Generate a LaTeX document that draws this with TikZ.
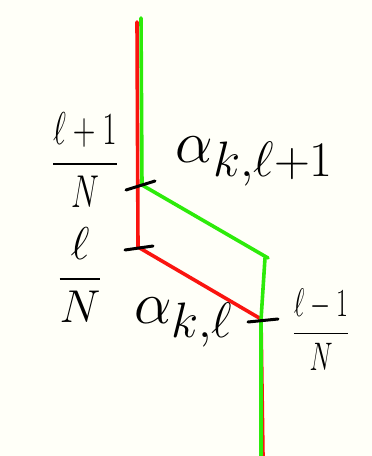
\documentclass[tikz,border=0pt]{standalone}
\usepackage{amsmath}
\usepackage{graphicx}
\definecolor{bg}{RGB}{255,255,248}
\definecolor{pen red}{RGB}{250,20,15}
\definecolor{pen green}{RGB}{45,235,10}
\begin{document}
\begin{tikzpicture}[x=1pt,y=-1pt,
  redpath/.style={draw=pen red,line width=3.6pt,line cap=round,line join=round},
  greenpath/.style={draw=pen green,line width=3.6pt,line cap=round,line join=round},
  tick/.style={draw=black,line width=3pt,line cap=round},
  lbl/.style={inner sep=0pt,text=black,font=\Huge}]
\fill[bg] (0,0) rectangle (372,456);
\useasboundingbox (0,0) rectangle (372,456);
% coordinates
\coordinate (rtop) at (137,22);
\coordinate (rc1) at (138,247);
\coordinate (rc2) at (261,319);
\coordinate (rbot) at (263,456);
\coordinate (gtop) at (141,18);
\coordinate (gc1) at (142,185);
\coordinate (gc2) at (268,258);
\coordinate (gc3) at (265,258);
\coordinate (gc4) at (261,320);
\coordinate (gbot) at (261,456);
% red path
\draw[redpath] (rtop) -- (rc1) -- (rc2) -- (rbot);
% green path
\draw[greenpath] (gtop) -- (gc1) -- (gc2);
\draw[greenpath] (gc3) -- (gc4) -- (gbot);
% ticks
\draw[tick] (126,190) -- (155,181);
\draw[tick] (125,250) -- (153,246);
\draw[tick] (248,322) -- (278,319);
% labels
\node[lbl] (f1) at (85,160) {\scalebox{1.26}[1.85]{$\dfrac{\ell+1}{N}$}};
\node[lbl] (f2) at (80,275) {\scalebox{1.85}{$\dfrac{\ell}{N}$}};
\node[lbl] (f3) at (321,330) {\scalebox{1.04}[1.6]{$\dfrac{\ell-1}{N}$}};
\node[lbl] (a1) at (255,161) {\scalebox{2.4}{$\alpha_{k,\ell+1}$}};
\node[lbl] (a2) at (184,322) {\scalebox{2.4}{$\alpha_{k,\ell}$}};
\end{tikzpicture}
\end{document}
